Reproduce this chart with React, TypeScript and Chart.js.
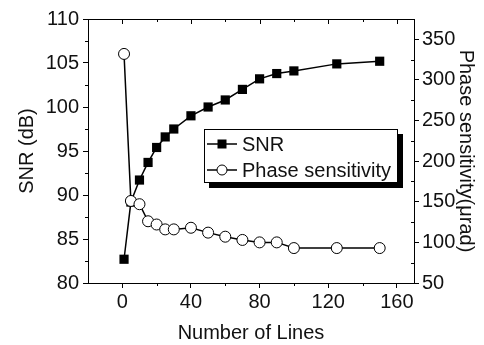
import React, { useEffect, useRef } from "react";
import { Chart, registerables } from "chart.js";

Chart.register(...registerables);

// ---- data ----
const numberOfLines = [1, 5, 10, 15, 20, 25, 30, 40, 50, 60, 70, 80, 90, 100, 125, 150];
const snrDb = [82.7, 89.2, 91.7, 93.7, 95.4, 96.6, 97.5, 99.0, 100.0, 100.8, 102.0, 103.2, 103.8, 104.1, 104.9, 105.2];
const phaseSensitivity = [332, 151, 147, 126, 122, 116, 116, 118, 112, 107, 103, 100, 100, 93, 93, 93];

const xTicks = [0, 40, 80, 120, 160];
const xMinorTicks = [20, 60, 100, 140];
const snrTicks = [80, 85, 90, 95, 100, 105, 110];
const snrMinorTicks = [82.5, 87.5, 92.5, 97.5, 102.5, 107.5];
const phaseTicks = [50, 100, 150, 200, 250, 300, 350];
const phaseMinorTicks = [75, 125, 175, 225, 275, 325];

const FONT_FAMILY = '"Liberation Sans", Arial, Helvetica, sans-serif';
const TEXT_COLOR = "#111";

const frameTicksPlugin = {
  id: "frameTicks",
  afterDraw(chart: any) {
    const { ctx, chartArea: a, scales } = chart;
    const x = scales.x;
    const yl = scales.y;
    const yr = scales.y1;
    const crisp = (v: number) => Math.round(v) + 0.5;
    ctx.save();
    ctx.strokeStyle = "#000";
    ctx.lineWidth = 1;
    ctx.beginPath();
    const top = Math.round(a.top) + 0.5;
    ctx.moveTo(a.left, top);
    ctx.lineTo(a.right, top);
    for (const v of xTicks) {
      const px = crisp(x.getPixelForValue(v));
      ctx.moveTo(px, a.top);
      ctx.lineTo(px, a.top + 5);
    }
    for (const v of xMinorTicks) {
      const px = crisp(x.getPixelForValue(v));
      ctx.moveTo(px, a.top);
      ctx.lineTo(px, a.top + 3);
      ctx.moveTo(px, a.bottom);
      ctx.lineTo(px, a.bottom + 3);
    }
    for (const v of snrMinorTicks) {
      const py = crisp(yl.getPixelForValue(v));
      ctx.moveTo(a.left - 3, py);
      ctx.lineTo(a.left, py);
    }
    for (const v of phaseMinorTicks) {
      const py = crisp(yr.getPixelForValue(v));
      ctx.moveTo(a.right - 3, py);
      ctx.lineTo(a.right, py);
    }
    ctx.stroke();
    ctx.restore();
  },
};

const tickFont = { family: FONT_FAMILY, size: 20 };
const titleFont = { family: FONT_FAMILY, size: 20, lineHeight: 1.2 };

export default function App() {
  const canvasRef = useRef<HTMLCanvasElement | null>(null);

  useEffect(() => {
    const canvas = canvasRef.current;
    if (!canvas) return;
    const snrPoints = numberOfLines.map((n, i) => ({ x: n, y: snrDb[i] }));
    const phasePoints = numberOfLines.map((n, i) => ({ x: n, y: phaseSensitivity[i] }));

    const chart = new Chart(canvas, {
      type: "line",
      data: {
        datasets: [
          {
            label: "Phase sensitivity",
            data: phasePoints,
            yAxisID: "y1",
            borderColor: "#000",
            borderWidth: 1.5,
            pointStyle: "circle",
            pointRadius: 5.5,
            pointBackgroundColor: "#fff",
            pointBorderColor: "#000",
            pointBorderWidth: 1,
            tension: 0,
            fill: false,
          },
          {
            label: "SNR",
            data: snrPoints,
            yAxisID: "y",
            borderColor: "#000",
            borderWidth: 1.5,
            pointStyle: "rect",
            pointRadius: 6.5,
            pointBackgroundColor: "#000",
            pointBorderColor: "#000",
            pointBorderWidth: 0,
            tension: 0,
            fill: false,
          },
        ],
      },
      options: {
        responsive: false,
        animation: false,
        devicePixelRatio: 1,
        layout: { padding: { top: 19, left: 0, right: 0, bottom: 0 } },
        plugins: {
          legend: { display: false },
          tooltip: { enabled: false },
        },
        scales: {
          x: {
            type: "linear",
            position: "bottom",
            min: -20,
            max: 170,
            afterBuildTicks: (s: any) => {
              s.ticks = xTicks.map((v) => ({ value: v }));
            },
            afterFit: (s: any) => {
              s.height = 62;
            },
            ticks: { font: tickFont, color: TEXT_COLOR, padding: 2, maxRotation: 0, autoSkip: false },
            grid: { display: true, drawOnChartArea: false, drawTicks: true, tickLength: 5, color: "#000" },
            border: { display: true, color: "#000", width: 1 },
            title: {
              display: true,
              text: "Number of Lines",
              font: titleFont,
              color: TEXT_COLOR,
              padding: { top: 0, bottom: 0 },
            },
          },
          y: {
            type: "linear",
            position: "left",
            min: 80,
            max: 110,
            afterBuildTicks: (s: any) => {
              s.ticks = snrTicks.map((v) => ({ value: v }));
            },
            afterFit: (s: any) => {
              s.width = 88;
            },
            ticks: { font: tickFont, color: TEXT_COLOR, padding: 4, autoSkip: false },
            grid: { display: true, drawOnChartArea: false, drawTicks: true, tickLength: 5, color: "#000" },
            border: { display: true, color: "#000", width: 1 },
            title: {
              display: true,
              text: "SNR (dB)",
              font: titleFont,
              color: TEXT_COLOR,
              padding: { top: 15, bottom: 0 },
            },
          },
          y1: {
            type: "linear",
            position: "right",
            min: 50,
            max: 375,
            afterBuildTicks: (s: any) => {
              s.ticks = phaseTicks.map((v) => ({ value: v }));
            },
            afterFit: (s: any) => {
              s.width = 70;
            },
            ticks: { font: tickFont, color: TEXT_COLOR, padding: 3, autoSkip: false },
            grid: { display: true, drawOnChartArea: false, drawTicks: true, tickLength: 5, color: "#000" },
            border: { display: true, color: "#000", width: 1 },
            title: {
              display: true,
              text: "Phase sensitivity(μrad)",
              font: titleFont,
              color: TEXT_COLOR,
              padding: { top: 6.5, bottom: 0 },
            },
          },
        },
      },
      plugins: [frameTicksPlugin],
    } as any);

    return () => {
      chart.destroy();
    };
  }, []);

  const rowText: React.CSSProperties = {
    position: "absolute",
    left: 37,
    fontFamily: FONT_FAMILY,
    fontSize: 20,
    lineHeight: "20px",
    color: TEXT_COLOR,
    whiteSpace: "nowrap",
  };

  return (
    <div style={{ position: "absolute", left: 0, top: 0, width: 484, height: 345 }}>
      <canvas ref={canvasRef} width={484} height={345} style={{ display: "block", width: 484, height: 345 }} />
      <div
        style={{
          position: "absolute",
          left: 204,
          top: 129,
          width: 192,
          height: 52,
          border: "1px solid #000",
          background: "#fff",
          boxShadow: "5px 5px 0 #000",
        }}
      >
        <svg style={{ position: "absolute", left: 1, top: 7 }} width={32} height={14}>
          <line x1={1} y1={7} x2={31} y2={7} stroke="#000" strokeWidth={1.5} />
          <rect x={11.5} y={2.5} width={9} height={9} fill="#000" />
        </svg>
        <span style={{ ...rowText, top: 4 }}>SNR</span>
        <svg style={{ position: "absolute", left: 1, top: 33 }} width={32} height={14}>
          <line x1={1} y1={7} x2={31} y2={7} stroke="#000" strokeWidth={1.5} />
          <circle cx={16} cy={7} r={5} fill="#fff" stroke="#000" strokeWidth={1} />
        </svg>
        <span style={{ ...rowText, top: 30 }}>Phase sensitivity</span>
      </div>
    </div>
  );
}
